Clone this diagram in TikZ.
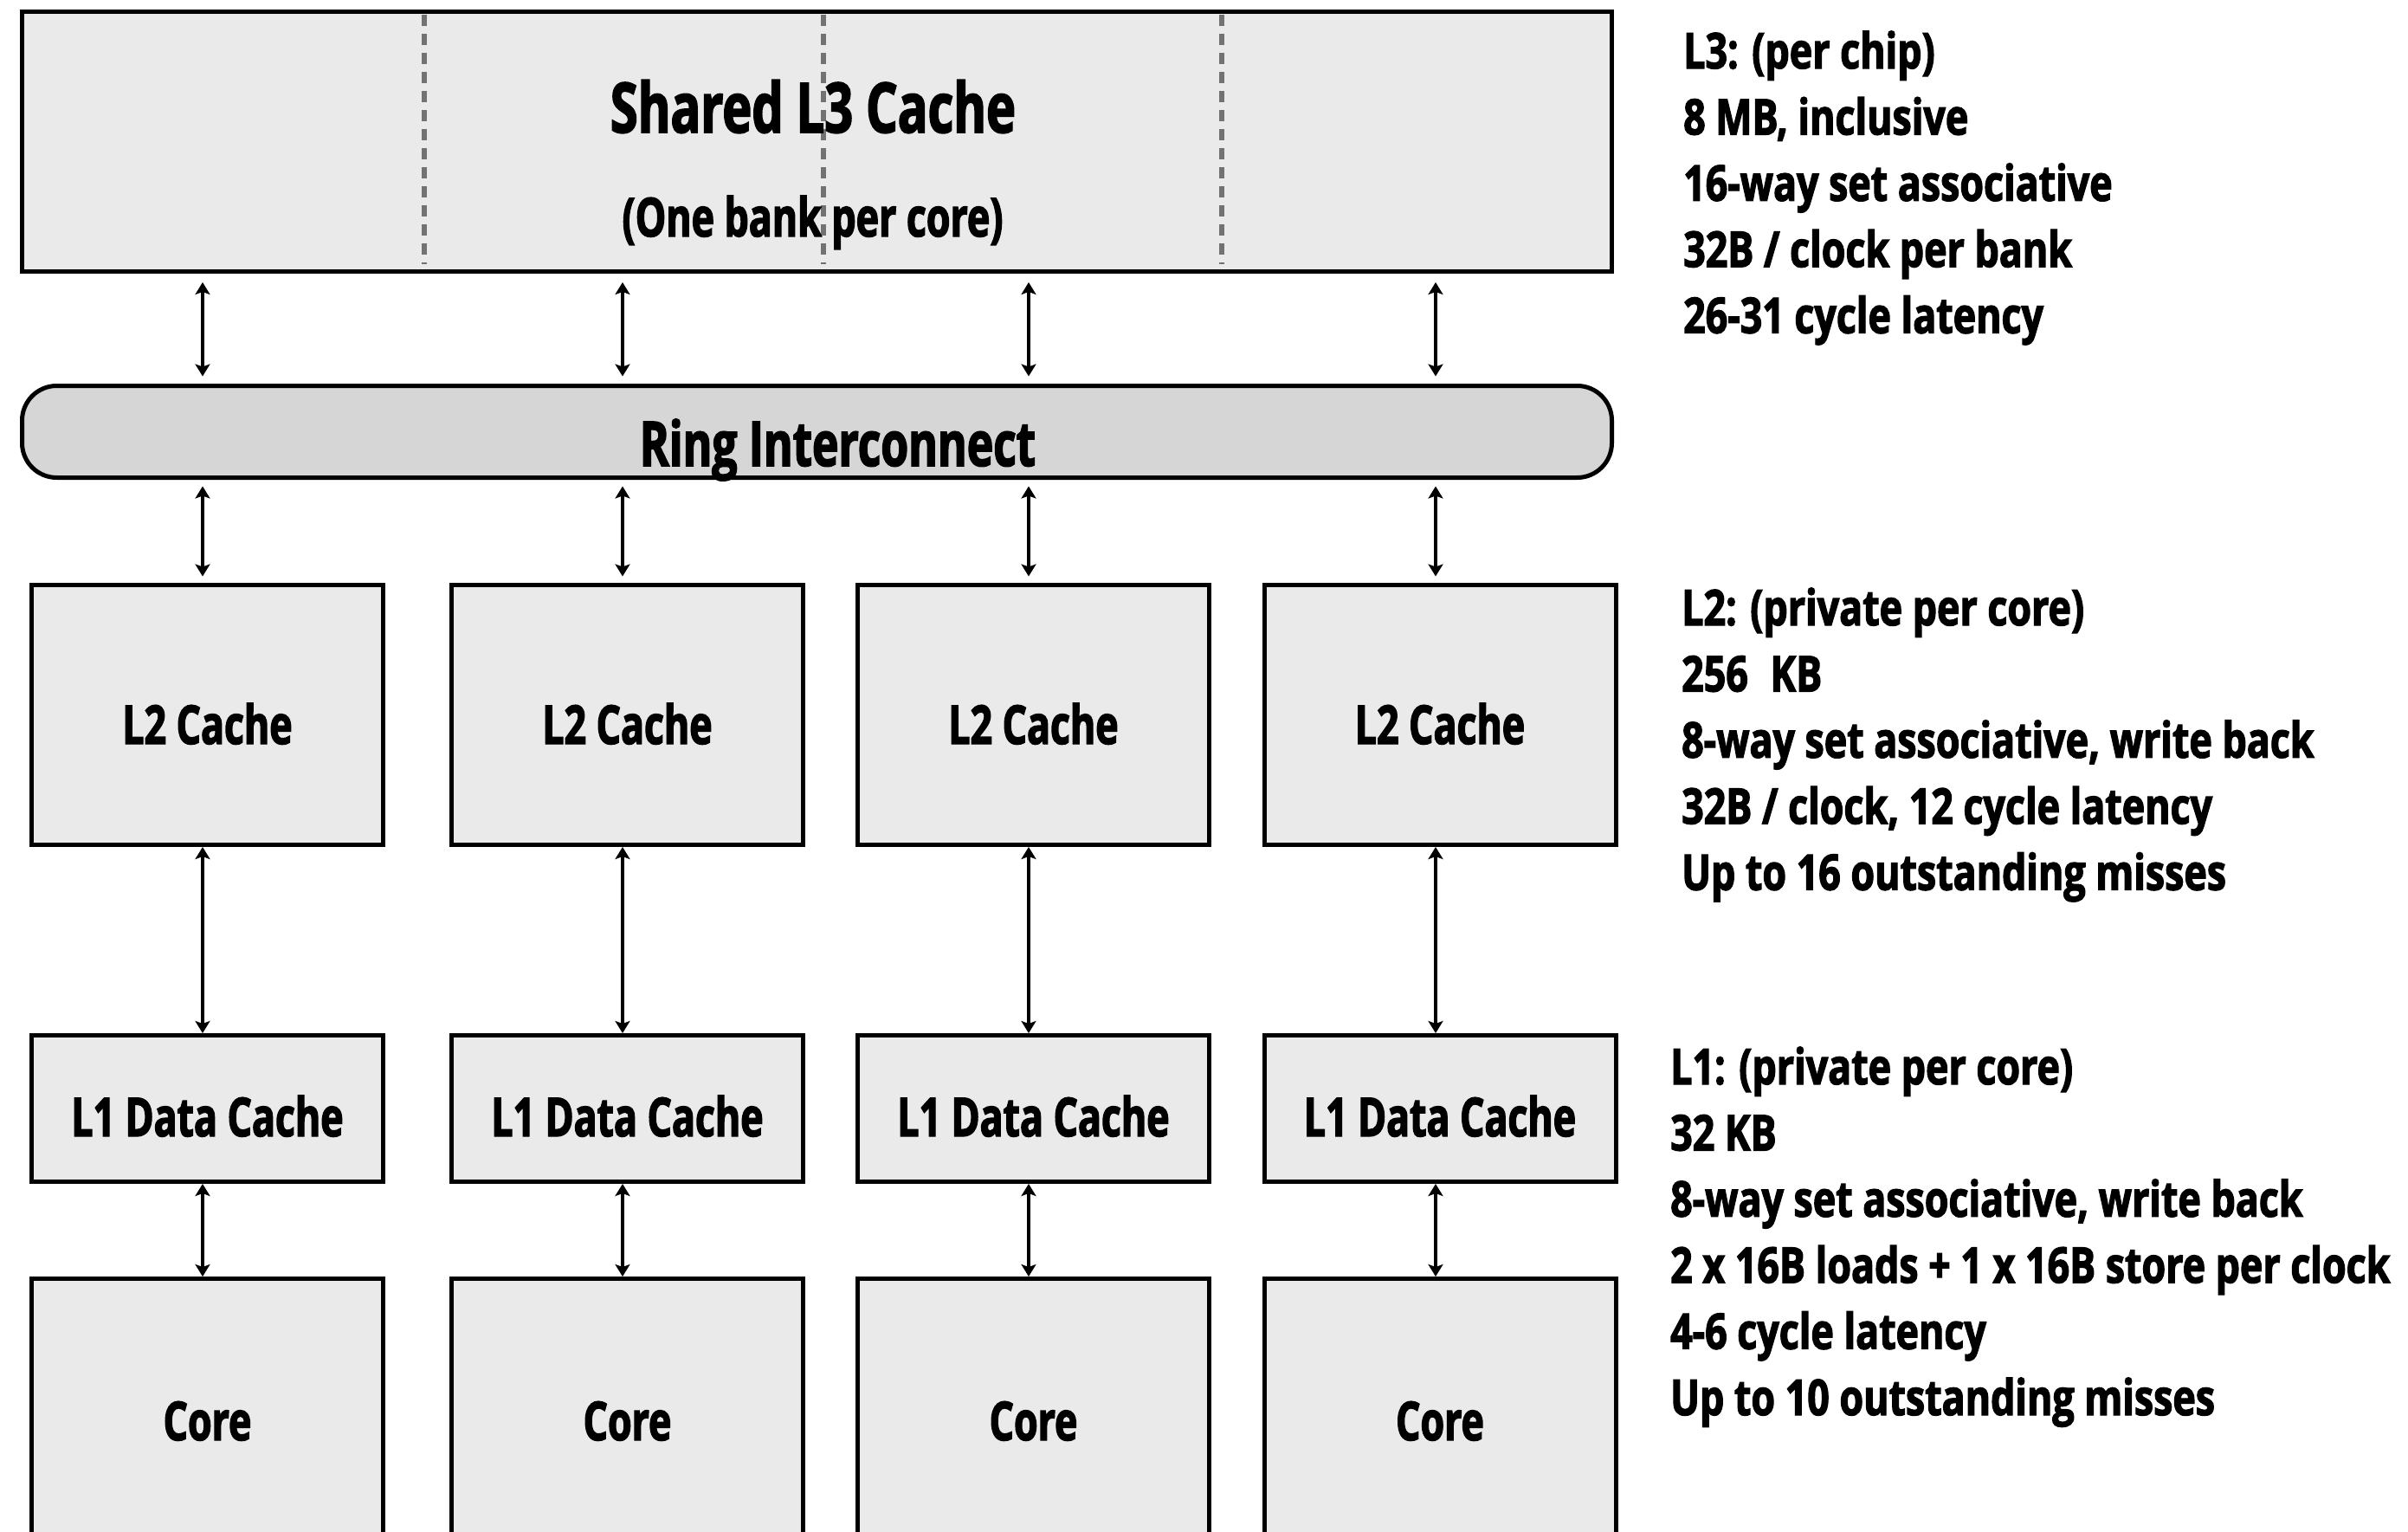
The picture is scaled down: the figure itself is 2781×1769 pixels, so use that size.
\documentclass[tikz,border=0pt]{standalone}
\usepackage{fontspec}
\setmainfont{Open Sans}[FakeStretch=0.72,BoldFeatures={FakeBold=2.2}]
\newfontfamily\sidefont{Open Sans}[FakeStretch=0.785,BoldFeatures={FakeBold=2.2}]
\usetikzlibrary{arrows.meta,calc}
\definecolor{boxfill}{HTML}{EAEAEA}
\definecolor{ringfill}{HTML}{D6D6D6}
\definecolor{bankgray}{HTML}{727272}
\begin{document}
\begin{tikzpicture}[x=1pt,y=-1pt,
  box/.style={draw=black,line width=5pt,fill=boxfill,inner sep=0pt,outer sep=0pt,minimum width=406pt},
  l3box/.style={box,minimum width=1836pt,minimum height=299pt},
  ringbox/.style={draw=black,line width=5pt,fill=ringfill,rounded corners=40pt,inner sep=0pt,outer sep=0pt,minimum width=1836pt,minimum height=106pt},
  l2box/.style={box,minimum height=300pt},
  l1box/.style={box,minimum height=169pt},
  corebox/.style={box,minimum height=313pt},
  bankline/.style={draw=bankgray,line width=5.5pt,dash pattern=on 13pt off 9pt},
  conn/.style={draw=black,line width=4.2pt,{Stealth[length=14pt,width=17pt,inset=3pt]}-{Stealth[length=14pt,width=17pt,inset=3pt]}},
  boxtext/.style={inner sep=0pt,anchor=base,font=\bfseries\fontsize{62}{74}\selectfont},
  bigtext/.style={inner sep=0pt,anchor=base,font=\bfseries\fontsize{80}{96}\selectfont},
  ringtext/.style={inner sep=0pt,anchor=base,font=\bfseries\fontsize{71.5}{86}\selectfont},
  sidetext/.style={inner sep=0pt,anchor=base west,align=left,font=\sidefont\bfseries\fontsize{57}{76.4}\selectfont}
]
\useasboundingbox (0,0) rectangle (2781,1769);
\clip (0,0) rectangle (2781,1769);

% column x positions of the connectors
\coordinate (ax1) at (234,0);
\coordinate (ax2) at (719,0);
\coordinate (ax3) at (1188,0);
\coordinate (ax4) at (1658,0);

% Shared L3 cache
\node[l3box] (l3) at (943.5,163.5) {};
\coordinate (bk1) at (490,0);
\coordinate (bk2) at (951,0);
\coordinate (bk3) at (1411,0);
\foreach \b in {bk1,bk2,bk3}
  \draw[bankline] ([yshift=-3pt]l3.north -| \b) -- ([yshift=8pt]l3.south -| \b);
\node[bigtext] (l3title) at (939,153) {Shared L3 Cache};
\node[boxtext] (l3sub) at (938.5,273) {(One bank per core)};

% Ring
\node[ringbox] (ring) at (943.5,498.5) {};
\node[ringtext] (ringt) at (967.5,538) {Ring Interconnect};

% Per-core columns
\foreach \i/\cx in {1/239.5,2/724.5,3/1193.5,4/1663} {
  \node[l2box] (l2-\i) at (\cx,825.5) {};
  \node[boxtext] (l2t-\i) at (\cx,859) {L2 Cache};
  \node[l1box] (l1-\i) at (\cx,1280) {};
  \node[boxtext] (l1t-\i) at (\cx,1312) {L1 Data Cache};
  \node[corebox] (core-\i) at (\cx,1633) {};
  \node[boxtext] (coret-\i) at (\cx,1663) {Core};
}

% Connectors
\foreach \i in {1,2,3,4} {
  \draw[conn,shorten <=13pt,shorten >=11pt] (l3.south -| ax\i) -- (ring.north -| ax\i);
  \draw[conn,shorten <=10pt,shorten >=10pt] (ring.south -| ax\i) -- (l2-\i.north -| ax\i);
  \draw[conn,shorten <=2.5pt,shorten >=2.5pt] (l2-\i.south -| ax\i) -- (l1-\i.north -| ax\i);
  \draw[conn,shorten <=2.5pt,shorten >=2.5pt] (l1-\i.south -| ax\i) -- (core-\i.north -| ax\i);
}

% Side notes (anchor = baseline of the last line)
\node[sidetext] (noteL3) at (1944,384.6) {L3: (per chip)\\8 MB, inclusive\\16-way set associative\\32B / clock per bank\\26-31 cycle latency};
\node[sidetext] (noteL2) at (1942,1027.6) {L2: (private per core)\\256\hspace{0.45em}KB\\8-way set associative, write back\\32B / clock, 12 cycle latency\\Up to 16 outstanding misses};
\node[sidetext] (noteL1) at (1929,1634) {L1: (private per core)\\32 KB\\8-way set associative, write back\\2 x 16B loads + 1 x 16B store per clock\\4-6 cycle latency\\Up to 10 outstanding misses};
\end{tikzpicture}
\end{document}
